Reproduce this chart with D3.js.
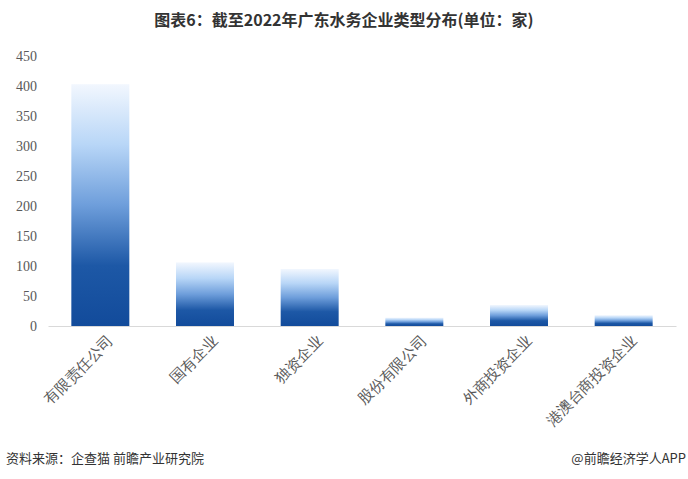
<!DOCTYPE html>
<html><head><meta charset="utf-8">
<script src="https://cdn.jsdelivr.net/npm/d3@7/dist/d3.min.js"></script>
<style>body{margin:0;background:#fff;}svg{display:block;}</style>
</head><body>
<svg id="c" width="688" height="479"></svg>
<script>
const categories = ["有限责任公司","国有企业","独资企业","股份有限公司","外商投资企业","港澳台商投资企业"];
const values = [403, 106, 95, 14, 35, 18];
const yTicks = [0,50,100,150,200,250,300,350,400,450];
const title = "图表6：截至2022年广东水务企业类型分布(单位：家)";
const source = "资料来源：企查猫 前瞻产业研究院";
const brand = "@前瞻经济学人APP";

const svg = d3.select("#c");
const margin = {left:48, right:12, top:56, bottom:153};
const W = 688, H = 479;
const x = d3.scaleBand().domain(categories).range([48, 676]).paddingInner(0.446).paddingOuter(0.223);
const y = d3.scaleLinear().domain([0,450]).range([326, 56]);

const defs = svg.append("defs");
const g = defs.append("linearGradient").attr("id","grad").attr("x1",0).attr("y1",0).attr("x2",0).attr("y2",1);
[[0,"#f2f7fe"],[0.25,"#b8d6f7"],[0.5,"#6e9edb"],[0.75,"#1d58a6"],[1,"#124b9b"]].forEach(s=>{
  g.append("stop").attr("offset",s[0]).attr("stop-color",s[1]);
});

svg.append("text").attr("x",344).attr("y",26).attr("text-anchor","middle")
  .attr("font-family","'Noto Sans CJK SC', sans-serif").attr("font-weight","bold")
  .attr("font-size",16).attr("fill","#333").text(title);

// y axis labels
const ya = svg.append("g").attr("transform","translate(37,0)")
  .call(d3.axisLeft(y).tickValues(yTicks).tickSize(0).tickPadding(0));
ya.select(".domain").remove();
ya.selectAll("text").attr("font-family","'Liberation Serif', serif").attr("font-size",14).attr("fill","#595959");

// bars
svg.append("g").selectAll("rect").data(values).join("rect")
  .attr("x",(d,i)=>x(categories[i]))
  .attr("y",d=>y(d))
  .attr("width",x.bandwidth())
  .attr("height",d=>y(0)-y(d))
  .attr("fill","url(#grad)");

// x axis
const xa = svg.append("g").attr("transform","translate(0,326)")
  .call(d3.axisBottom(x).tickSize(0).tickSizeOuter(0));
xa.select(".domain").attr("stroke","#d9d9d9").attr("stroke-width",1.2);
xa.selectAll("text")
  .attr("font-family","'Liberation Serif', serif").attr("font-size",15).attr("fill","#595959")
  .attr("text-anchor","end")
  .attr("transform","translate(10,12) rotate(-45)")
  .attr("dy","0.35em").attr("y",0).attr("x",0);

svg.append("text").attr("x",6).attr("y",463)
  .attr("font-family","'Noto Sans CJK SC', sans-serif").attr("font-size",13).attr("fill","#333").text(source);
svg.append("text").attr("x",686).attr("y",463).attr("text-anchor","end")
  .attr("font-family","'Noto Sans CJK SC', sans-serif").attr("font-size",13).attr("fill","#333").text(brand);
</script>
</body></html>
